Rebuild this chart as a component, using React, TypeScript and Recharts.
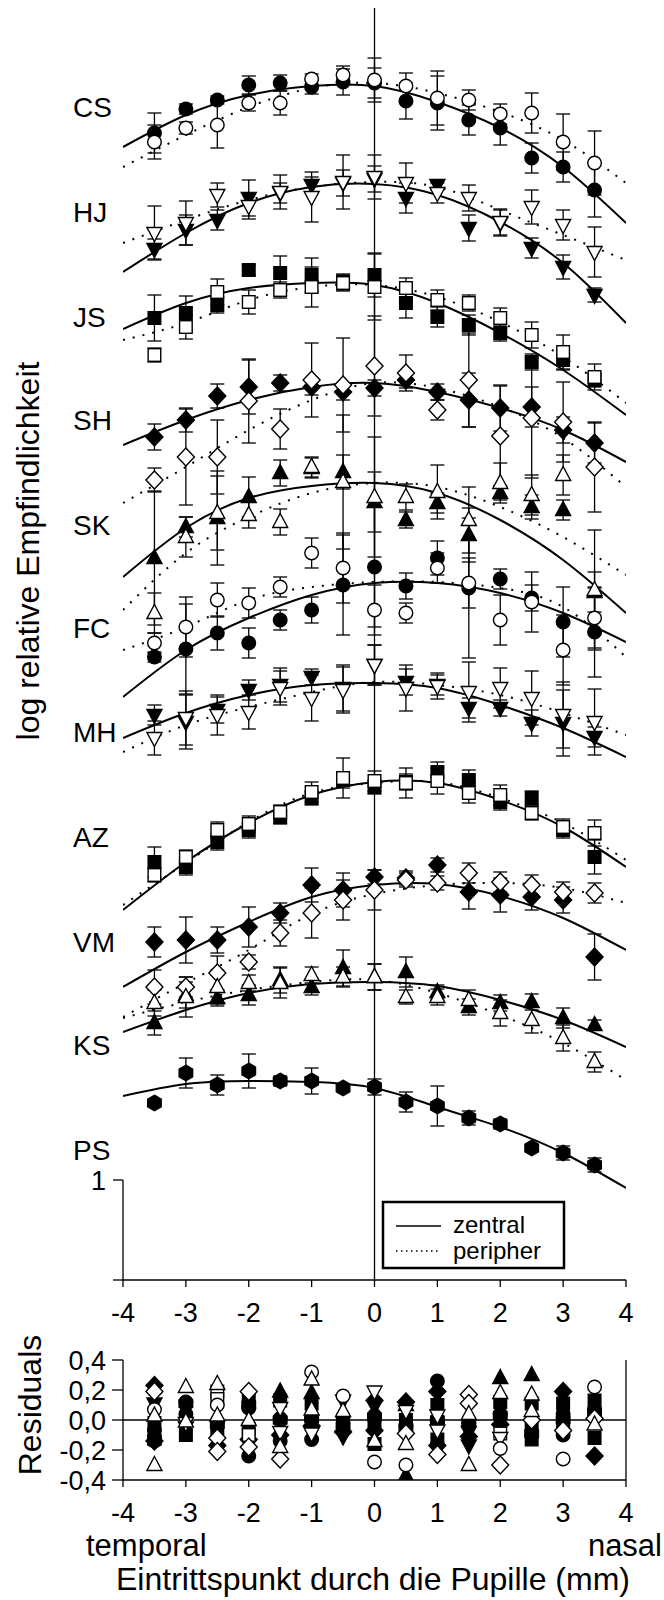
import React from "react";
import { ComposedChart, Line, Scatter, XAxis, YAxis, ErrorBar, ReferenceLine } from "recharts";

const FONT = "'Liberation Sans', Arial, Helvetica, sans-serif";

// pupil entry points (mm) of the measurements and of the read-off fit curves
const pupilX = [-3.5, -3, -2.5, -2, -1.5, -1, -0.5, 0, 0.5, 1, 1.5, 2, 2.5, 3, 3.5];
const fitX = [-4, -3, -2, -1, 0, 1, 2, 3, 4];
const xTicks = [-4, -3, -2, -1, 0, 1, 2, 3, 4];

// CS
const csZ = [11.47, 11.71, 11.8, 11.95, 11.97, 11.93, 11.98, 11.97, 11.79, 11.77, 11.6, 11.52, 11.22, 11.13, 10.9];
const csZe = [0.2, 0.05, 0.04, 0.09, 0.08, 0.07, 0.13, 0.15, 0.18, 0.27, 0.15, 0.17, 0.15, 0.15, 0.27];
const csP = [11.38, 11.52, 11.55, 11.77, 11.77, 12.01, 12.05, 12.0, 11.94, 11.82, 11.8, 11.66, 11.67, 11.38, 11.17];
const csPe = [0.17, 0.06, 0.23, 0.08, 0.12, 0.05, 0.09, 0.22, 0.13, 0.27, 0.1, 0.1, 0.2, 0.28, 0.32];
const csFitZ = [11.33, 11.65, 11.85, 11.94, 11.94, 11.78, 11.52, 11.13, 10.57];
const csFitP = [11.13, 11.45, 11.73, 11.92, 11.97, 11.87, 11.68, 11.4, 10.97];

// HJ
const hjZ = [10.31, 10.5, 10.6, 10.82, 10.87, 10.95, 10.97, 11.01, 10.82, 10.95, 10.52, 10.57, 10.32, 10.13, 9.85];
const hjZe = [0.1, 0.15, 0.1, 0.18, 0.1, 0.08, 0.13, 0.13, 0.15, 0.05, 0.13, 0.13, 0.1, 0.12, 0.07];
const hjP = [10.47, 10.57, 10.85, 10.74, 10.88, 10.83, 10.98, 11.03, 10.97, 10.87, 10.82, 10.58, 10.73, 10.55, 10.28];
const hjPe = [0.27, 0.22, 0.12, 0.13, 0.17, 0.25, 0.27, 0.22, 0.2, 0.1, 0.13, 0.13, 0.17, 0.15, 0.25];
const hjFitZ = [10.08, 10.47, 10.77, 10.93, 10.96, 10.85, 10.58, 10.17, 9.57];
const hjFitP = [10.37, 10.6, 10.8, 10.93, 10.98, 10.93, 10.7, 10.45, 10.2];

// JS
const jsZ = [9.62, 9.67, 9.75, 10.1, 10.07, 10.05, 9.98, 10.05, 9.77, 9.63, 9.55, 9.47, 9.18, 9.2, 9.0];
const jsZe = [0.23, 0.17, 0.08, 0.05, 0.17, 0.17, 0.08, 0.22, 0.15, 0.1, 0.1, 0.08, 0.08, 0.1, 0.07];
const jsP = [9.25, 9.53, 9.88, 9.78, 9.9, 9.93, 9.97, 9.93, 9.92, 9.8, 9.77, 9.62, 9.45, 9.28, 9.03];
const jsPe = [0.07, 0.12, 0.13, 0.12, 0.08, 0.2, 0.08, 0.33, 0.1, 0.1, 0.08, 0.1, 0.13, 0.17, 0.13];
const jsFitZ = [9.51, 9.77, 9.92, 9.97, 9.95, 9.77, 9.47, 9.1, 8.65];
const jsFitP = [9.4, 9.57, 9.8, 9.93, 9.95, 9.83, 9.58, 9.23, 8.77];

// SH
const shZ = [8.43, 8.6, 8.84, 8.93, 8.97, 8.93, 8.88, 8.92, 9.0, 8.88, 8.8, 8.72, 8.73, 8.5, 8.37];
const shZe = [0.13, 0.12, 0.12, 0.27, 0.08, 0.08, 0.08, 0.08, 0.08, 0.08, 0.27, 0.23, 0.2, 0.13, 0.2];
const shP = [8.0, 8.23, 8.23, 8.79, 8.51, 9.0, 8.95, 9.14, 9.07, 8.7, 9.0, 8.44, 8.62, 8.58, 8.13];
const shPe = [0.12, 0.48, 0.37, 0.42, 0.2, 0.37, 0.47, 0.5, 0.18, 0.1, 0.47, 0.5, 0.6, 0.4, 0.45];
const shFitZ = [8.35, 8.6, 8.8, 8.93, 8.97, 8.88, 8.72, 8.5, 8.18];
const shFitP = [7.77, 8.13, 8.5, 8.8, 8.97, 8.92, 8.73, 8.42, 7.93];

// SK
const skZ = [7.22, 7.53, 7.62, 7.83, 8.07, 8.12, 8.08, 7.78, 7.6, 7.77, 7.45, 7.87, 7.73, 7.7, 6.88];
const skZe = [0.67, 0.1, 0.47, 0.2, 0.13, 0.1, 0.17, 0.3, 0.08, 0.1, 0.27, 0.07, 0.12, 0.1, 0.2];
const skP = [6.67, 7.43, 7.67, 7.65, 7.58, 8.13, 7.98, 7.83, 7.83, 7.88, 7.6, 7.97, 7.85, 8.05, 6.9];
const skPe = [0.2, 0.2, 0.37, 0.13, 0.13, 0.1, 0.67, 0.6, 0.13, 0.27, 0.33, 0.2, 0.2, 0.2, 0.6];
const skFitZ = [7.03, 7.52, 7.82, 7.94, 7.97, 7.87, 7.6, 7.2, 6.67];
const skFitP = [6.7, 7.27, 7.63, 7.87, 7.97, 7.93, 7.73, 7.43, 7.05];

// FC
const fcZ = [6.23, 6.31, 6.47, 6.37, 6.6, 6.7, 6.95, 7.13, 6.94, 7.22, 6.92, 7.01, 6.82, 6.58, 6.48];
const fcZe = [0.05, 0.45, 0.17, 0.15, 0.1, 0.13, 0.5, 0.6, 0.13, 0.17, 0.7, 0.1, 0.13, 0.35, 0.45];
const fcP = [6.37, 6.53, 6.8, 6.77, 6.93, 7.27, 7.12, 6.7, 6.67, 7.12, 6.97, 6.6, 6.78, 6.3, 6.62];
const fcPe = [0.1, 0.3, 0.17, 0.15, 0.1, 0.15, 0.35, 0.25, 0.1, 0.15, 0.25, 0.25, 0.3, 0.35, 0.3];
const fcFitZ = [5.83, 6.3, 6.62, 6.85, 6.97, 6.97, 6.87, 6.67, 6.38];
const fcFitP = [6.3, 6.53, 6.8, 6.93, 6.98, 6.98, 6.92, 6.73, 6.23];

// MH
const mhZ = [5.65, 5.58, 5.7, 5.9, 5.95, 6.03, 5.92, 6.15, 5.98, 5.95, 5.72, 5.72, 5.57, 5.57, 5.43];
const mhZe = [0.1, 0.27, 0.13, 0.1, 0.17, 0.08, 0.23, 0.2, 0.13, 0.1, 0.1, 0.08, 0.13, 0.33, 0.1];
const mhP = [5.42, 5.62, 5.65, 5.68, 5.92, 5.82, 5.9, 6.15, 5.92, 5.94, 5.88, 5.92, 5.82, 5.65, 5.58];
const mhPe = [0.17, 0.27, 0.2, 0.17, 0.17, 0.23, 0.23, 0.2, 0.23, 0.13, 0.3, 0.2, 0.27, 0.33, 0.33];
const mhFitZ = [5.42, 5.67, 5.85, 5.95, 5.97, 5.92, 5.75, 5.52, 5.23];
const mhFitP = [5.28, 5.55, 5.73, 5.88, 5.98, 5.95, 5.85, 5.67, 5.45];

// AZ
const azZ = [4.18, 4.13, 4.38, 4.5, 4.63, 4.82, 5.0, 4.93, 4.98, 5.08, 5.0, 4.78, 4.82, 4.5, 4.23];
const azZe = [0.15, 0.08, 0.08, 0.08, 0.07, 0.07, 0.08, 0.07, 0.08, 0.1, 0.1, 0.08, 0.07, 0.08, 0.17];
const azP = [4.05, 4.23, 4.5, 4.56, 4.68, 4.88, 5.02, 4.99, 4.97, 4.99, 4.87, 4.85, 4.67, 4.53, 4.47];
const azPe = [0.07, 0.07, 0.08, 0.08, 0.07, 0.1, 0.2, 0.1, 0.15, 0.13, 0.1, 0.1, 0.07, 0.08, 0.13];
const azFitZ = [3.7, 4.18, 4.57, 4.85, 4.98, 4.97, 4.8, 4.53, 4.13];
const azFitP = [3.75, 4.17, 4.58, 4.87, 4.97, 4.98, 4.82, 4.57, 4.2];

// VM
const vmZ = [3.38, 3.4, 3.4, 3.53, 3.67, 3.95, 3.9, 4.03, 4.02, 4.15, 3.88, 3.85, 3.83, 3.8, 3.23];
const vmZe = [0.15, 0.23, 0.13, 0.2, 0.1, 0.17, 0.17, 0.07, 0.07, 0.07, 0.17, 0.17, 0.13, 0.13, 0.23];
const vmP = [2.93, 2.93, 3.07, 3.18, 3.47, 3.67, 3.8, 3.9, 4.0, 3.97, 4.07, 3.98, 3.95, 3.88, 3.87];
const vmPe = [0.17, 0.1, 0.17, 0.07, 0.13, 0.25, 0.2, 0.2, 0.07, 0.07, 0.1, 0.1, 0.1, 0.1, 0.1];
const vmFitZ = [2.93, 3.28, 3.58, 3.83, 3.95, 3.96, 3.84, 3.62, 3.3];
const vmFitP = [2.63, 2.97, 3.3, 3.66, 3.86, 3.95, 3.97, 3.92, 3.77];

// KS
const ksZ = [2.57, 2.85, 2.82, 2.85, 3.0, 2.93, 3.12, 3.03, 3.08, 2.88, 2.73, 2.77, 2.78, 2.62, 2.55];
const ksZe = [0.12, 0.13, 0.08, 0.1, 0.13, 0.08, 0.18, 0.13, 0.15, 0.07, 0.08, 0.08, 0.08, 0.1, 0.05];
const ksP = [2.77, 2.83, 2.93, 2.97, 2.97, 3.05, 3.03, 3.03, 2.83, 2.83, 2.8, 2.67, 2.6, 2.42, 2.18];
const ksPe = [0.13, 0.2, 0.17, 0.08, 0.15, 0.08, 0.1, 0.13, 0.07, 0.08, 0.1, 0.13, 0.13, 0.13, 0.1];
const ksFitZ = [2.48, 2.7, 2.87, 2.96, 2.98, 2.94, 2.8, 2.6, 2.33];
const ksFitP = [2.62, 2.78, 2.9, 2.98, 3.0, 2.87, 2.65, 2.37, 2.0];

// PS (nur zentral)
const psZ = [1.77, 2.07, 1.95, 2.09, 1.99, 1.99, 1.92, 1.93, 1.78, 1.74, 1.62, 1.56, 1.32, 1.27, 1.15];
const psZe = [0, 0.15, 0.1, 0.17, 0.05, 0.13, 0.03, 0.08, 0.1, 0.2, 0.07, 0.05, 0.02, 0.07, 0.07];
const psFitZ = [1.84, 1.96, 1.99, 1.98, 1.92, 1.73, 1.53, 1.27, 0.92];

// residuals [x, r] by marker
const resCircleF = [[-3.5, -0.11], [-3.5, -0.07], [-3, 0.12], [-3, 0.04], [-2.5, -0.01], [-2, 0.08], [-2, -0.24], [-1.5, 0.01], [-1.5, -0.14], [-1, 0.01], [-1, -0.13], [-0.5, 0.02], [0, 0.03], [0.5, -0.04], [1, 0.26], [1, -0.01], [1.5, -0.02], [2, 0.04], [3, 0.04], [3, -0.1], [3.5, 0.07]];
const resCircleO = [[-3.5, 0.07], [-2.5, 0.1], [-1, 0.32], [-0.5, 0.16], [0, -0.28], [0.5, -0.3], [2, -0.19], [3, -0.26], [3.5, 0.22]];
const resDownF = [[-3.5, 0.11], [-3, -0.05], [-0.5, 0.13], [-0.5, -0.11], [0, 0.09], [1.5, -0.08], [1.5, -0.17]];
const resDownO = [[-3, -0.02], [-1.5, 0.08], [-1.5, -0.08], [-1, -0.09], [0, 0.19], [0.5, 0.06], [1, 0.03], [1, -0.07], [2, -0.12]];
const resSquareF = [[-3.5, -0.02], [-3, -0.1], [-2.5, -0.06], [-2, 0.13], [-2, -0.06], [-1.5, 0.13], [-1, 0.11], [-0.5, -0.02], [0, -0.02], [0, -0.16], [0.5, 0], [1, 0.1], [1, -0.13], [2, 0.12], [2.5, 0.11], [2.5, -0.06], [2.5, -0.13], [3, 0.11], [3, -0.02], [3.5, 0.13], [3.5, -0.12]];
const resSquareO = [[-2.5, 0.19], [-2.5, 0.14], [-2, -0.1], [2, -0.09]];
const resDiamondF = [[-3.5, 0.23], [-3.5, -0.14], [-2.5, -0.17], [-2, -0.13], [-1.5, -0.1], [-1, -0.04], [-0.5, -0.08], [0, 0.13], [0, -0.07], [0.5, 0.12], [1, 0.19], [1, -0.17], [1.5, -0.11], [2, -0.03], [3, 0.19], [3.5, -0.24]];
const resDiamondO = [[-3.5, 0.19], [-2.5, -0.12], [-2.5, -0.21], [-2, 0.19], [-2, -0.18], [-1.5, -0.26], [0.5, -0.09], [1, -0.23], [1.5, 0.17], [1.5, 0.11], [2, -0.3], [2.5, 0], [3, -0.07], [3.5, 0.01]];
const resUpF = [[-1.5, 0.19], [-1, 0.18], [0.5, 0.1], [0.5, -0.37], [2, 0.28], [2.5, 0.3]];
const resUpO = [[-3.5, 0.03], [-3.5, -0.3], [-3, 0.22], [-3, -0.01], [-2.5, 0.24], [-2.5, 0.03], [-2, 0], [-1.5, -0.18], [-1, 0.27], [-1, 0.07], [-0.5, 0.06], [0, -0.14], [0.5, -0.16], [1.5, 0.04], [1.5, -0.3], [2, 0.18], [2.5, 0.17], [2.5, 0.06], [3.5, -0.03]];
const resHexF = [[-3.5, -0.14], [-3, 0.11], [-2.5, -0.03], [-2, 0.1], [-1.5, 0], [-1, 0.01], [-0.5, -0.04], [0, 0.02], [0.5, -0.05], [1, 0], [1.5, -0.02], [2, 0.03], [2.5, -0.09], [3, 0], [3.5, 0.05]];
const resTicks = [-0.4, -0.2, 0, 0.2, 0.4];

const subjects = [
  { name: "CS", mark: "circle", z: csZ, ze: csZe, p: csP, pe: csPe, fz: csFitZ, fp: csFitP },
  { name: "HJ", mark: "down", z: hjZ, ze: hjZe, p: hjP, pe: hjPe, fz: hjFitZ, fp: hjFitP },
  { name: "JS", mark: "square", z: jsZ, ze: jsZe, p: jsP, pe: jsPe, fz: jsFitZ, fp: jsFitP },
  { name: "SH", mark: "diamond", z: shZ, ze: shZe, p: shP, pe: shPe, fz: shFitZ, fp: shFitP },
  { name: "SK", mark: "up", z: skZ, ze: skZe, p: skP, pe: skPe, fz: skFitZ, fp: skFitP },
  { name: "FC", mark: "circle", z: fcZ, ze: fcZe, p: fcP, pe: fcPe, fz: fcFitZ, fp: fcFitP },
  { name: "MH", mark: "down", z: mhZ, ze: mhZe, p: mhP, pe: mhPe, fz: mhFitZ, fp: mhFitP },
  { name: "AZ", mark: "square", z: azZ, ze: azZe, p: azP, pe: azPe, fz: azFitZ, fp: azFitP },
  { name: "VM", mark: "diamond", z: vmZ, ze: vmZe, p: vmP, pe: vmPe, fz: vmFitZ, fp: vmFitP },
  { name: "KS", mark: "up", z: ksZ, ze: ksZe, p: ksP, pe: ksPe, fz: ksFitZ, fp: ksFitP },
  { name: "PS", mark: "hex", z: psZ, ze: psZe, p: null, pe: null, fz: psFitZ, fp: null },
];

const residuals = [
  { key: "sqF", mark: "square", filled: true, data: resSquareF },
  { key: "dF", mark: "diamond", filled: true, data: resDiamondF },
  { key: "cF", mark: "circle", filled: true, data: resCircleF },
  { key: "dnF", mark: "down", filled: true, data: resDownF },
  { key: "upF", mark: "up", filled: true, data: resUpF },
  { key: "hexF", mark: "hex", filled: true, data: resHexF },
  { key: "sqO", mark: "square", filled: false, data: resSquareO },
  { key: "dO", mark: "diamond", filled: false, data: resDiamondO },
  { key: "dnO", mark: "down", filled: false, data: resDownO },
  { key: "cO", mark: "circle", filled: false, data: resCircleO },
  { key: "upO", mark: "up", filled: false, data: resUpO },
];

// subject label centres (px) in the stacked panel
const labelY = [107, 212, 317, 420, 525, 628, 732, 837, 942, 1045, 1150];

const toPoints = (vals: number[], errs: number[]) => vals.map((y, i) => ({ x: pupilX[i], y, e: errs[i] }));
const toCurve = (vals: number[]) => vals.map((y, i) => ({ x: fitX[i], y }));
const fmtRes = (v: number) => v.toFixed(1).replace(".", ",");

function drawMark(kind: string, filled: boolean, cx: number, cy: number) {
  if (cx == null || cy == null || isNaN(cx) || isNaN(cy)) return <g />;
  const st = { fill: filled ? "#000" : "#fff", stroke: "#000", strokeWidth: 1.4 };
  switch (kind) {
    case "circle":
      return <circle cx={cx} cy={cy} r={6.8} {...st} />;
    case "square":
      return <rect x={cx - 6.3} y={cy - 6.3} width={12.6} height={12.6} {...st} />;
    case "diamond":
      return <polygon points={`${cx},${cy - 9} ${cx + 8.5},${cy} ${cx},${cy + 9} ${cx - 8.5},${cy}`} {...st} />;
    case "up":
      return <polygon points={`${cx},${cy - 8.5} ${cx + 7.5},${cy + 5.5} ${cx - 7.5},${cy + 5.5}`} {...st} />;
    case "down":
      return <polygon points={`${cx},${cy + 8.5} ${cx + 7.5},${cy - 5.5} ${cx - 7.5},${cy - 5.5}`} {...st} />;
    default: {
      const pts = [0, 1, 2, 3, 4, 5]
        .map((k) => {
          const a = ((-90 + 60 * k) * Math.PI) / 180;
          return `${cx + 7.8 * Math.cos(a)},${cy + 7.8 * Math.sin(a)}`;
        })
        .join(" ");
      return <polygon points={pts} {...st} />;
    }
  }
}
const shapeOf = (kind: string, filled: boolean) => (props: any) => drawMark(kind, filled, props.cx, props.cy);

const tickStyle = { fill: "#000", fontSize: 27, fontFamily: FONT };
const axisStroke = { stroke: "#000", strokeWidth: 1.3 };

export default function App() {
  return (
    <div style={{ position: "relative", width: 664, height: 1600, background: "#fff", fontFamily: FONT }}>
      <style>{"body{margin:0;background:#fff}"}</style>

      <div style={{ position: "absolute", left: 0, top: 0 }}>
        <ComposedChart width={664} height={1340} margin={{ top: 8, right: 38, bottom: 0, left: 0 }}>
          <XAxis
            type="number"
            dataKey="x"
            domain={[-4, 4]}
            ticks={xTicks}
            interval={0}
            allowDataOverflow
            height={60}
            tickSize={7}
            tickMargin={16}
            axisLine={axisStroke}
            tickLine={axisStroke}
            tick={tickStyle}
          />
          <YAxis
            type="number"
            dataKey="y"
            domain={[0, 12.72]}
            ticks={[0, 1]}
            allowDataOverflow
            width={123}
            axisLine={false}
            tickSize={10}
            tickMargin={7}
            tickLine={axisStroke}
            tick={tickStyle}
            tickFormatter={(v: number) => (v === 1 ? "1" : "")}
          />
          <ReferenceLine x={0} stroke="#000" strokeWidth={1.3} />
          <ReferenceLine segment={[{ x: -4, y: 0 }, { x: -4, y: 1 }]} stroke="#000" strokeWidth={1.3} />

          {subjects.map((s) => (
            <Line
              key={s.name + "-fz"}
              data={toCurve(s.fz)}
              dataKey="y"
              type="natural"
              stroke="#000"
              strokeWidth={2}
              dot={false}
              activeDot={false}
              isAnimationActive={false}
            />
          ))}
          {subjects
            .filter((s) => s.fp)
            .map((s) => (
              <Line
                key={s.name + "-fp"}
                data={toCurve(s.fp as number[])}
                dataKey="y"
                type="natural"
                stroke="#000"
                strokeWidth={2}
                strokeDasharray="2 8"
                dot={false}
                activeDot={false}
                isAnimationActive={false}
              />
            ))}

          {subjects.map((s) => (
            <Scatter
              key={s.name + "-z"}
              data={toPoints(s.z, s.ze)}
              dataKey="y"
              shape={shapeOf(s.mark, true)}
              isAnimationActive={false}
            >
              <ErrorBar dataKey="e" direction="y" width={7} stroke="#000" strokeWidth={1.3} />
            </Scatter>
          ))}
          {subjects
            .filter((s) => s.p)
            .map((s) => (
              <Scatter
                key={s.name + "-p"}
                data={toPoints(s.p as number[], s.pe as number[])}
                dataKey="y"
                shape={shapeOf(s.mark, false)}
                isAnimationActive={false}
              >
                <ErrorBar dataKey="e" direction="y" width={7} stroke="#000" strokeWidth={1.3} />
              </Scatter>
            ))}
        </ComposedChart>
      </div>

      <div style={{ position: "absolute", left: 0, top: 1340 }}>
        <ComposedChart width={664} height={190} margin={{ top: 20, right: 38, bottom: 0, left: 0 }}>
          <XAxis
            type="number"
            dataKey="x"
            domain={[-4, 4]}
            ticks={xTicks}
            interval={0}
            allowDataOverflow
            height={50}
            tickSize={7}
            tickMargin={16}
            axisLine={axisStroke}
            tickLine={axisStroke}
            tick={tickStyle}
          />
          <YAxis
            type="number"
            dataKey="y"
            domain={[-0.4, 0.4]}
            ticks={resTicks}
            interval={0}
            allowDataOverflow
            width={123}
            tickSize={11}
            tickMargin={6}
            axisLine={axisStroke}
            tickLine={axisStroke}
            tick={tickStyle}
            tickFormatter={fmtRes}
          />
          <ReferenceLine y={0} stroke="#000" strokeWidth={1.3} />
          <ReferenceLine x={4} stroke="#000" strokeWidth={1.3} />
          {residuals.map((r) => (
            <Scatter
              key={r.key}
              data={r.data.map(([x, y]) => ({ x, y }))}
              dataKey="y"
              shape={shapeOf(r.mark, r.filled)}
              isAnimationActive={false}
            />
          ))}
        </ComposedChart>
      </div>

      <svg
        width={664}
        height={1600}
        style={{ position: "absolute", left: 0, top: 0, pointerEvents: "none" }}
        fontFamily={FONT}
      >
        {subjects.map((s, i) => (
          <text key={s.name} x={73} y={labelY[i] + 10} fontSize={28} fill="#000">
            {s.name}
          </text>
        ))}
        <text transform="translate(39,551) rotate(-90)" textAnchor="middle" fontSize={32} fill="#000">
          log relative Empfindlichkeit
        </text>
        <text transform="translate(41,1405) rotate(-90)" textAnchor="middle" fontSize={32} fill="#000">
          Residuals
        </text>

        <rect x={383} y={1202} width={181} height={66} fill="#fff" stroke="#000" strokeWidth={2.5} />
        <line x1={396} x2={441} y1={1226} y2={1226} stroke="#000" strokeWidth={1.5} />
        <line x1={396} x2={441} y1={1251} y2={1251} stroke="#000" strokeWidth={1.5} strokeDasharray="1.5 3.5" />
        <text x={453} y={1233} fontSize={24} fill="#000">
          zentral
        </text>
        <text x={453} y={1259} fontSize={24} fill="#000">
          peripher
        </text>

        <text x={86} y={1556} fontSize={31} fill="#000">
          temporal
        </text>
        <text x={662} y={1556} fontSize={31} fill="#000" textAnchor="end">
          nasal
        </text>
        <text x={373} y={1590} fontSize={32} fill="#000" textAnchor="middle">
          Eintrittspunkt durch die Pupille (mm)
        </text>
      </svg>
    </div>
  );
}
